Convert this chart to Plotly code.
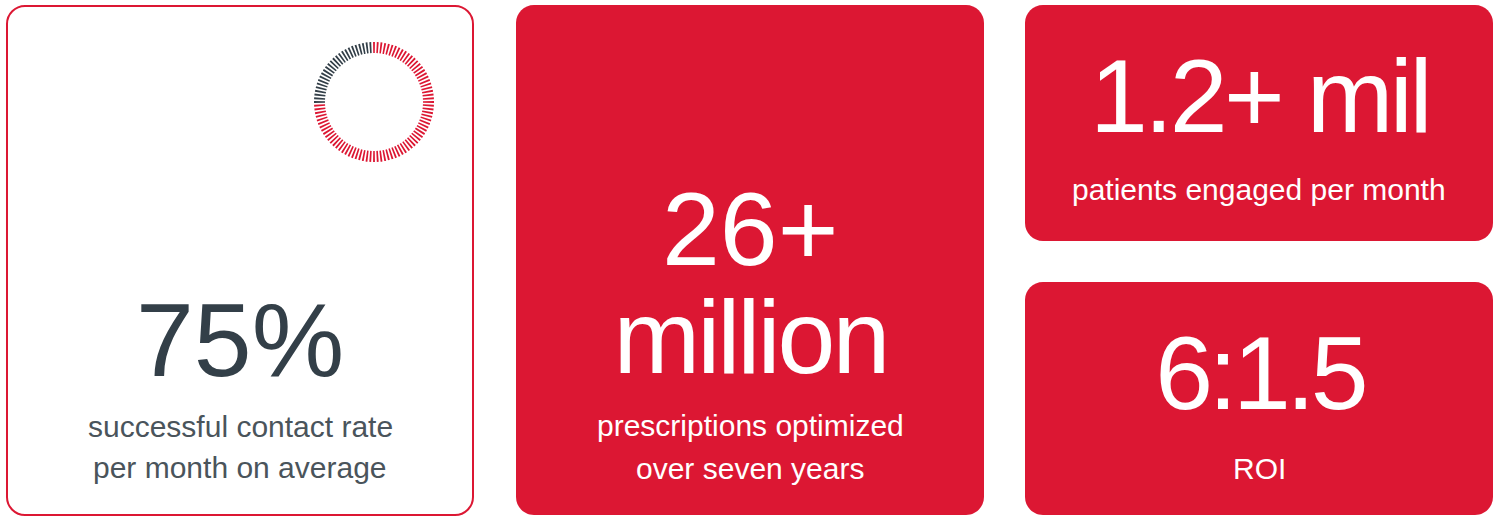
import plotly.graph_objects as go

# ---- data ----
gauge_value = 75          # percent shown on the gauge
gauge_ticks = 100         # number of tick marks on the ring
headline_values = ["75%", "26+", "million", "1.2+ mil", "6:1.5"]
sub_labels = ["successful contact rate", "per month on average",
              "prescriptions optimized", "over seven years",
              "patients engaged per month", "ROI"]

RED = "#DC1733"
DARK = "#333F48"
GREY = "#4A545B"
W, H = 1501, 518

fig = go.Figure()

def rrect(x0, y0, x1, y1, r):
    k = 0.5523 * r
    return (f"M{x0+r},{y0} L{x1-r},{y0} C{x1-r+k},{y0} {x1},{y0+r-k} {x1},{y0+r} "
            f"L{x1},{y1-r} C{x1},{y1-r+k} {x1-r+k},{y1} {x1-r},{y1} "
            f"L{x0+r},{y1} C{x0+r-k},{y1} {x0},{y1-r+k} {x0},{y1-r} "
            f"L{x0},{y0+r} C{x0},{y0+r-k} {x0+r-k},{y0} {x0+r},{y0} Z")

shapes = [
    dict(type="path", path=rrect(7, 6, 473, 515, 18), line=dict(color=RED, width=2),
         fillcolor="white", xref="x", yref="y", layer="below"),
    dict(type="path", path=rrect(516, 5, 984, 515, 18), line=dict(width=0),
         fillcolor=RED, xref="x", yref="y", layer="below"),
    dict(type="path", path=rrect(1025, 5, 1493, 241, 18), line=dict(width=0),
         fillcolor=RED, xref="x", yref="y", layer="below"),
    dict(type="path", path=rrect(1025, 282, 1493, 515, 18), line=dict(width=0),
         fillcolor=RED, xref="x", yref="y", layer="below"),
]

# invisible trace to anchor cartesian axes
fig.add_trace(go.Scatter(x=[0, W], y=[0, H], mode="markers",
                         marker=dict(opacity=0), hoverinfo="skip", showlegend=False))

# gauge ring of ticks
step = 360 / gauge_ticks
thetas = [i * step for i in range(gauge_ticks)]
n_on = round(gauge_value / 100 * gauge_ticks)
colors = [RED if i < n_on else DARK for i in range(gauge_ticks)]
fig.add_trace(go.Barpolar(
    theta=thetas, r=[11] * gauge_ticks, base=[49] * gauge_ticks,
    width=[step * 0.5] * gauge_ticks, marker=dict(color=colors, line=dict(width=0)),
    hoverinfo="skip", showlegend=False))

cx, cy, R = 374, 102, 61
fig.update_layout(polar=dict(
    domain=dict(x=[(cx - R) / W, (cx + R) / W], y=[(H - cy - R) / H, (H - cy + R) / H]),
    bgcolor="rgba(0,0,0,0)",
    radialaxis=dict(range=[0, 61], visible=False, showgrid=False),
    angularaxis=dict(visible=False, showgrid=False, direction="clockwise", rotation=90),
))

FONT = "Liberation Sans, Arial, Helvetica, sans-serif"
big = 104
sub = 30
ann = []
def add(text, x, y, size, color):
    ann.append(dict(text=text, x=x, y=y, xref="x", yref="y", showarrow=False,
                    xanchor="center", yanchor="middle",
                    font=dict(family=FONT, size=size, color=color)))

add(headline_values[0], 240, 340, big, DARK)
add(headline_values[1], 750, 229, big, "white")
add(headline_values[2], 750, 337, big, "white")
add(headline_values[3], 1259, 96, big, "white")
add(headline_values[4], 1259, 373, big, "white")

add(sub_labels[0], 240, 426, sub, GREY)
add(sub_labels[1], 240, 467, sub, GREY)
add(sub_labels[2], 750, 425, sub, "white")
add(sub_labels[3], 750, 468, sub, "white")
add(sub_labels[4], 1259, 189, sub, "white")
add(sub_labels[5], 1259, 468, sub, "white")

fig.update_layout(
    width=W, height=H, margin=dict(l=0, r=0, t=0, b=0),
    paper_bgcolor="white", plot_bgcolor="white",
    xaxis=dict(range=[0, W], visible=False, fixedrange=True),
    yaxis=dict(range=[H, 0], visible=False, fixedrange=True),
    shapes=shapes, annotations=ann, showlegend=False,
)

# slightly tighter tracking on some large headline figures (reference typeface is more compact)
spacing = {"million": -3, "1.2+ mil": -3.5, "6:1.5": -4.5}
post = """
var sp = %s;
function tighten(){
  document.querySelectorAll('.annotation-text').forEach(function(t){
    var k = t.textContent;
    if (sp.hasOwnProperty(k)) { t.style.letterSpacing = sp[k] + 'px'; }
  });
}
tighten();
var gd = document.getElementsByClassName('plotly-graph-div')[0];
if (gd && gd.on) { gd.on('plotly_afterplot', tighten); }
""" % str(spacing).replace("'", '"')

fig.write_html("out.html", config=dict(displayModeBar=False), post_script=post)
